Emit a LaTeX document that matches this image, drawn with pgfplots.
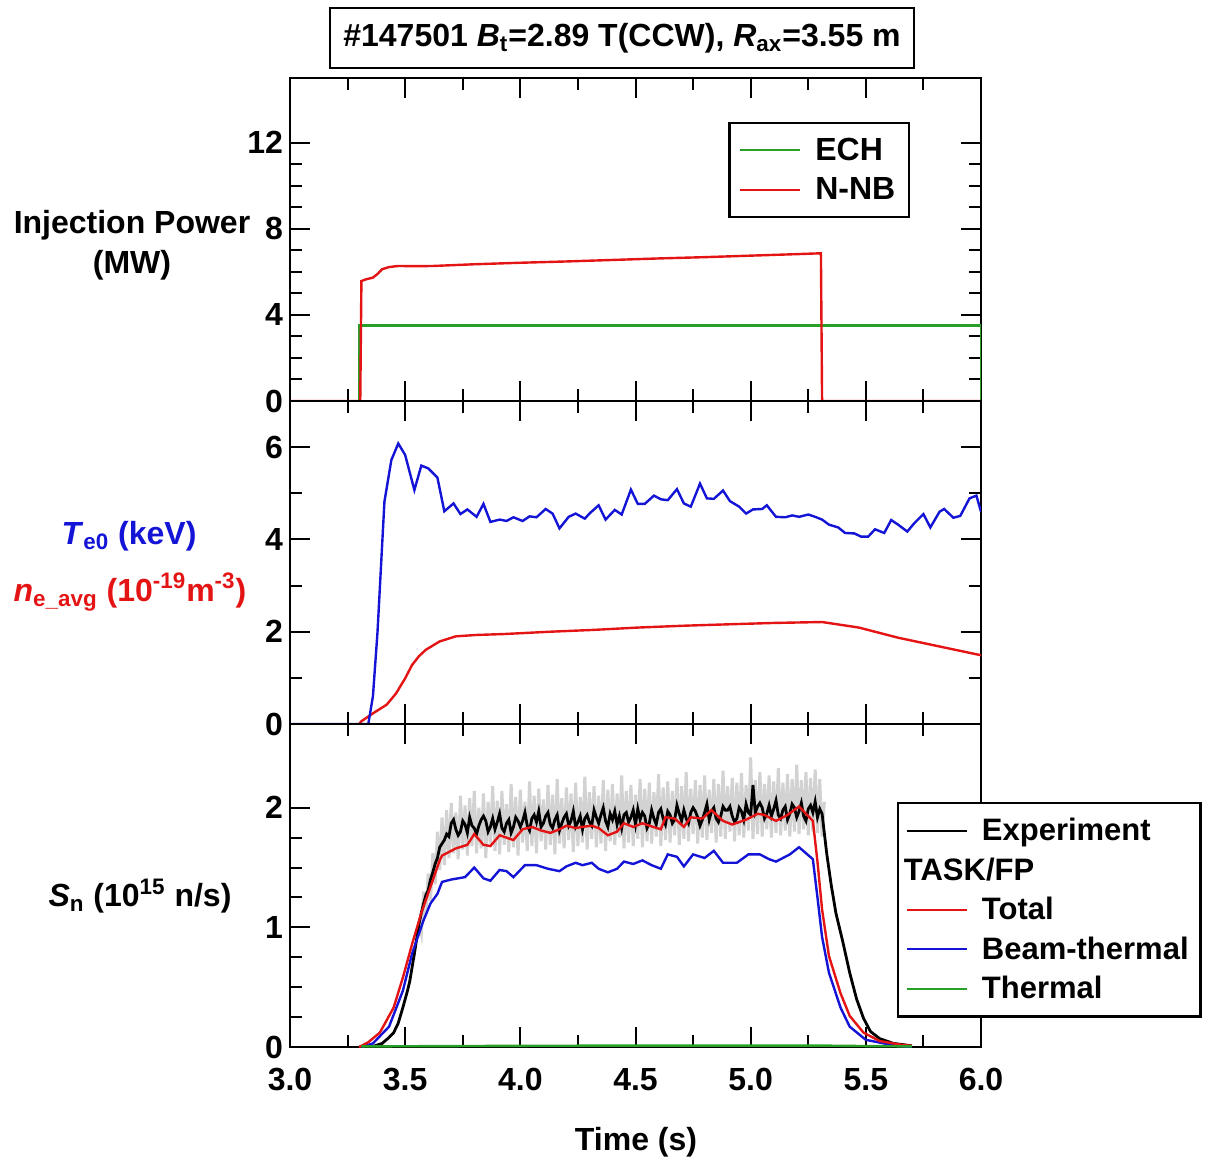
\documentclass[border=0pt]{standalone}
\usepackage{fontspec}
\setmainfont{Liberation Sans}
\usepackage{pgfplots}
\pgfplotsset{compat=1.18}
\definecolor{myred}{RGB}{228,20,20}
\definecolor{myblue}{RGB}{20,20,215}
\definecolor{mygreen}{RGB}{40,160,40}
\newcommand{\fs}{\fontsize{16}{20}\selectfont\bfseries}
\newcommand{\lfs}{\fontsize{15.5}{19}\selectfont\bfseries}
\pgfplotsset{
 panel/.style={
   scale only axis, width=345.5pt, height=161.5pt,
   anchor=south west,
   xmin=3, xmax=6,
   xtick={3,3.5,4,4.5,5,5.5,6},
   minor x tick num=1,
   tick align=inside, tick pos=both,
   axis line style={line width=1.2pt},
   major tick style={line width=1pt, black},
   minor tick style={line width=1pt, black},
   major tick length=10pt, minor tick length=6pt,
   tick label style={font=\fs},
   /pgf/number format/assume math mode=true,
   yticklabel={\pgfmathprintnumber{\tick}},
   legend cell align=left,
 }
}
\begin{document}
\begin{tikzpicture}
\path (0,0) rectangle (604pt,580pt);
% ---------------- top panel
\begin{axis}[panel, at={(145pt,379.5pt)}, ymin=0, ymax=15, ytick={0,4,8,12}, minor y tick num=3,
  xticklabels={},
  legend style={draw=black, line width=1.2pt, font=\fs, row sep=3pt, column sep=5pt, inner xsep=5pt, inner ysep=5.5pt, at={(0.634,0.865)}, anchor=north west},
  legend image code/.code={\draw[#1, line width=1pt] (0pt,0pt) -- (30pt,0pt);}]
\addplot[mygreen, line width=1.2pt] coordinates {(3,0)(3.3,0)(3.3,3.5)(6,3.5)(6,0)};
\addplot[myred, line width=1.2pt] coordinates {(3,0)(3.305,0)(3.31,5.57)(3.33,5.65)(3.36,5.73)(3.38,5.9)(3.40,6.12)(3.43,6.22)(3.47,6.27)(3.55,6.26)(3.62,6.27)(3.8,6.35)(4.0,6.42)(4.2,6.48)(4.4,6.55)(4.6,6.62)(4.8,6.68)(5.0,6.75)(5.2,6.82)(5.305,6.86)(5.31,0)(6,0)};
\legend{ECH,N-NB}
\end{axis}
% ---------------- middle panel
\begin{axis}[panel, at={(145pt,218pt)}, ymin=0, ymax=7, ytick={0,2,4,6}, minor y tick num=1,
  xticklabels={}]
\addplot[myred, line width=1.2pt] coordinates {(3.30,0)(3.31,0.06)(3.36,0.23)(3.42,0.42)(3.46,0.66)(3.50,0.99)(3.53,1.28)(3.56,1.47)(3.59,1.61)(3.65,1.79)(3.72,1.90)(3.81,1.93)(3.93,1.95)(4.13,2.0)(4.32,2.04)(4.51,2.09)(4.71,2.13)(4.90,2.16)(5.10,2.19)(5.31,2.21)(5.47,2.09)(5.64,1.87)(5.82,1.68)(6.0,1.49)};
\addplot[myblue, line width=1.2pt] coordinates {(3,0)(3.34,0)(3.36,0.6)(3.38,2.0)(3.41,4.82)(3.44,5.72)(3.47,6.08)(3.50,5.83)(3.54,5.07)(3.57,5.6)(3.60,5.54)(3.64,5.34)(3.67,4.61)(3.71,4.78)(3.74,4.55)(3.77,4.65)(3.81,4.49)(3.84,4.77)(3.87,4.38)(3.91,4.43)(3.94,4.40)(3.97,4.48)(4.01,4.40)(4.04,4.50)(4.07,4.48)(4.11,4.66)(4.14,4.56)(4.17,4.24)(4.21,4.49)(4.24,4.56)(4.28,4.45)(4.30,4.56)(4.34,4.74)(4.37,4.43)(4.41,4.64)(4.44,4.54)(4.48,5.08)(4.51,4.77)(4.54,4.77)(4.58,4.95)(4.61,4.87)(4.64,4.85)(4.68,5.09)(4.71,4.78)(4.74,4.71)(4.78,5.21)(4.81,4.89)(4.84,4.88)(4.88,5.06)(4.91,4.83)(4.95,4.71)(4.98,4.56)(5.01,4.65)(5.05,4.66)(5.07,4.74)(5.11,4.49)(5.15,4.48)(5.18,4.52)(5.21,4.49)(5.25,4.54)(5.28,4.49)(5.31,4.43)(5.34,4.32)(5.38,4.26)(5.41,4.14)(5.45,4.13)(5.48,4.06)(5.51,4.06)(5.54,4.22)(5.58,4.14)(5.61,4.42)(5.64,4.32)(5.68,4.17)(5.71,4.35)(5.75,4.55)(5.78,4.26)(5.82,4.60)(5.84,4.66)(5.88,4.47)(5.91,4.51)(5.95,4.89)(5.98,4.95)(6.0,4.60)};
\end{axis}
% ---------------- bottom panel
\begin{axis}[panel, at={(145pt,56.5pt)}, ymin=0, ymax=2.7, ytick={0,1,2}, minor y tick num=3,
  xticklabel={\pgfmathprintnumber[fixed,fixed zerofill,precision=1]{\tick}},
  xticklabel style={yshift=-7pt},
  legend style={draw=black, line width=1.2pt, font=\lfs, row sep=3pt, column sep=5pt, inner xsep=4pt, inner ysep=5.5pt, at={(0.878,0.7585)}, anchor=north west},
  legend image code/.code={\draw[#1, line width=1pt] (0pt,0pt) -- (30pt,0pt);}]
% grey scatter band of the measurement
\addplot[gray!35, line width=1.5pt, forget plot] coordinates {(3.56,1.05)(3.57,0.95)(3.58,1.30)(3.59,1.10)(3.60,1.45)(3.61,1.22)(3.62,1.62)(3.63,1.36)(3.64,1.80)(3.65,1.48)(3.66,1.92)(3.67,1.52)(3.68,1.98)(3.69,1.58)(3.70,2.04)(3.71,1.62)(3.72,1.96)(3.73,1.57)(3.74,2.10)(3.75,1.65)(3.76,2.02)(3.77,1.60)(3.78,2.08)(3.79,1.68)(3.80,2.14)(3.81,1.62)(3.82,2.00)(3.83,1.66)(3.84,2.12)(3.85,1.58)(3.86,2.05)(3.87,1.70)(3.88,2.18)(3.89,1.64)(3.90,2.06)(3.91,1.61)(3.92,2.14)(3.93,1.69)(3.94,2.03)(3.95,1.63)(3.96,2.20)(3.97,1.67)(3.98,2.09)(3.99,1.60)(4.00,2.15)(4.01,1.71)(4.02,2.05)(4.03,1.64)(4.04,2.22)(4.05,1.68)(4.06,2.10)(4.07,1.62)(4.08,2.16)(4.09,1.72)(4.10,2.07)(4.11,1.65)(4.12,2.19)(4.13,1.69)(4.14,2.11)(4.15,1.61)(4.16,2.24)(4.17,1.70)(4.18,2.08)(4.19,1.66)(4.20,2.17)(4.21,1.73)(4.22,2.12)(4.23,1.63)(4.24,2.21)(4.25,1.68)(4.26,2.09)(4.27,1.71)(4.28,2.26)(4.29,1.65)(4.30,2.13)(4.31,1.74)(4.32,2.18)(4.33,1.67)(4.34,2.10)(4.35,1.70)(4.36,2.23)(4.37,1.64)(4.38,2.15)(4.39,1.72)(4.40,2.20)(4.41,1.69)(4.42,2.12)(4.43,1.75)(4.44,2.27)(4.45,1.66)(4.46,2.14)(4.47,1.71)(4.48,2.19)(4.49,1.68)(4.50,2.11)(4.51,1.74)(4.52,2.24)(4.53,1.67)(4.54,2.16)(4.55,1.72)(4.56,2.21)(4.57,1.70)(4.58,2.13)(4.59,1.76)(4.60,2.28)(4.61,1.68)(4.62,2.17)(4.63,1.73)(4.64,2.22)(4.65,1.71)(4.66,2.14)(4.67,1.77)(4.68,2.25)(4.69,1.69)(4.70,2.18)(4.71,1.74)(4.72,2.30)(4.73,1.72)(4.74,2.16)(4.75,1.78)(4.76,2.23)(4.77,1.70)(4.78,2.19)(4.79,1.75)(4.80,2.27)(4.81,1.73)(4.82,2.15)(4.83,1.79)(4.84,2.24)(4.85,1.71)(4.86,2.20)(4.87,1.76)(4.88,2.31)(4.89,1.74)(4.90,2.18)(4.91,1.80)(4.92,2.25)(4.93,1.72)(4.94,2.21)(4.95,1.77)(4.96,2.29)(4.97,1.75)(4.98,2.19)(4.99,1.81)(5.00,2.42)(5.01,1.74)(5.02,2.23)(5.03,1.78)(5.04,2.30)(5.05,1.76)(5.06,2.20)(5.07,1.82)(5.08,2.27)(5.09,1.75)(5.10,2.22)(5.11,1.79)(5.12,2.33)(5.13,1.77)(5.14,2.21)(5.15,1.81)(5.16,2.28)(5.17,1.76)(5.18,2.24)(5.19,1.80)(5.20,2.36)(5.21,1.78)(5.22,2.23)(5.23,1.82)(5.24,2.30)(5.25,1.77)(5.26,2.25)(5.27,1.80)(5.28,2.32)(5.29,1.79)(5.30,2.24)(5.31,1.76)(5.32,2.05)};
\addplot[black, line width=1.4pt, forget plot] coordinates {(3.30,0.00)(3.36,0.005)(3.40,0.03)(3.43,0.08)(3.45,0.12)(3.47,0.20)(3.49,0.33)(3.51,0.47)(3.52,0.55)(3.54,0.78)(3.56,1.03)(3.57,1.12)(3.58,1.20)(3.59,1.27)(3.60,1.31)(3.61,1.40)(3.62,1.46)(3.63,1.53)(3.64,1.58)(3.65,1.67)(3.66,1.70)(3.67,1.73)(3.68,1.78)(3.69,1.76)(3.70,1.87)(3.71,1.90)(3.72,1.82)(3.73,1.77)(3.74,1.80)(3.75,1.89)(3.76,1.86)(3.77,1.79)(3.78,1.92)(3.79,1.85)(3.80,1.83)(3.81,1.78)(3.82,1.85)(3.83,1.90)(3.84,1.93)(3.85,1.89)(3.86,1.80)(3.87,1.84)(3.88,1.91)(3.89,1.82)(3.90,1.88)(3.91,1.95)(3.92,1.83)(3.93,1.80)(3.94,1.87)(3.95,1.90)(3.96,1.79)(3.97,1.84)(3.98,1.92)(3.99,1.89)(4.00,1.84)(4.01,1.89)(4.02,1.96)(4.03,1.85)(4.04,1.81)(4.05,1.91)(4.06,1.94)(4.07,1.88)(4.08,1.97)(4.09,1.84)(4.10,1.87)(4.11,1.93)(4.12,1.96)(4.13,1.86)(4.14,1.83)(4.15,1.90)(4.16,1.94)(4.17,1.81)(4.18,1.87)(4.19,1.92)(4.20,1.95)(4.21,1.85)(4.22,1.89)(4.23,1.97)(4.24,1.84)(4.25,1.88)(4.26,1.93)(4.27,1.82)(4.28,1.91)(4.29,1.94)(4.30,1.88)(4.31,1.85)(4.32,1.98)(4.33,1.92)(4.34,1.87)(4.35,1.94)(4.36,2.00)(4.37,1.89)(4.38,1.84)(4.39,1.95)(4.40,1.90)(4.41,1.97)(4.42,1.86)(4.43,1.93)(4.44,1.83)(4.45,1.94)(4.46,1.96)(4.47,1.88)(4.48,1.92)(4.49,1.98)(4.50,1.86)(4.51,1.99)(4.52,1.90)(4.53,1.96)(4.54,1.93)(4.55,1.83)(4.56,1.87)(4.57,1.98)(4.58,1.91)(4.59,1.86)(4.60,1.96)(4.61,1.99)(4.62,1.91)(4.63,1.86)(4.64,1.97)(4.65,1.94)(4.66,1.87)(4.67,1.90)(4.68,2.02)(4.69,1.95)(4.70,1.89)(4.71,1.98)(4.72,1.91)(4.73,1.87)(4.74,1.96)(4.75,2.00)(4.76,1.97)(4.77,1.92)(4.78,1.85)(4.79,1.90)(4.80,1.96)(4.81,2.03)(4.82,1.90)(4.83,1.97)(4.84,2.00)(4.85,1.91)(4.86,1.88)(4.87,1.93)(4.88,2.01)(4.89,1.98)(4.90,1.98)(4.91,2.01)(4.92,1.93)(4.93,1.88)(4.94,1.91)(4.95,2.00)(4.96,1.97)(4.97,1.90)(4.98,2.03)(4.99,1.96)(5.00,1.94)(5.01,2.19)(5.02,1.96)(5.03,2.01)(5.04,2.04)(5.05,2.00)(5.06,1.91)(5.07,1.95)(5.08,2.02)(5.09,1.93)(5.10,1.99)(5.11,2.06)(5.12,1.94)(5.13,1.91)(5.14,1.98)(5.15,2.01)(5.16,1.90)(5.17,1.95)(5.18,2.03)(5.19,2.00)(5.20,1.92)(5.21,1.97)(5.22,2.04)(5.23,1.93)(5.24,1.89)(5.25,1.99)(5.26,2.02)(5.27,1.96)(5.28,2.05)(5.29,1.92)(5.30,1.99)(5.31,1.95)(5.33,1.62)(5.35,1.35)(5.37,1.12)(5.40,0.88)(5.43,0.62)(5.46,0.40)(5.49,0.24)(5.52,0.13)(5.56,0.07)(5.62,0.03)(5.70,0.01)};
\addplot[myblue, line width=1.2pt, forget plot] coordinates {(3.31,0)(3.36,0.03)(3.43,0.17)(3.49,0.47)(3.53,0.78)(3.58,1.06)(3.61,1.20)(3.64,1.28)(3.66,1.38)(3.70,1.40)(3.76,1.42)(3.80,1.50)(3.84,1.41)(3.87,1.39)(3.91,1.48)(3.94,1.47)(3.97,1.42)(4.02,1.52)(4.07,1.52)(4.12,1.49)(4.17,1.47)(4.20,1.51)(4.24,1.54)(4.27,1.52)(4.31,1.54)(4.34,1.49)(4.38,1.46)(4.42,1.49)(4.45,1.55)(4.49,1.53)(4.53,1.56)(4.57,1.52)(4.61,1.49)(4.64,1.61)(4.68,1.59)(4.71,1.51)(4.75,1.61)(4.80,1.58)(4.84,1.64)(4.88,1.54)(4.94,1.54)(4.99,1.61)(5.04,1.61)(5.08,1.57)(5.11,1.55)(5.17,1.61)(5.21,1.67)(5.27,1.57)(5.29,1.25)(5.31,0.92)(5.34,0.62)(5.39,0.33)(5.43,0.17)(5.50,0.06)(5.63,0.01)(5.70,0)};
\addplot[myred, line width=1.2pt, forget plot] coordinates {(3.30,0.0)(3.34,0.04)(3.39,0.12)(3.45,0.33)(3.49,0.58)(3.53,0.86)(3.57,1.12)(3.61,1.34)(3.65,1.56)(3.66,1.60)(3.72,1.66)(3.77,1.69)(3.80,1.78)(3.84,1.69)(3.87,1.68)(3.91,1.77)(3.94,1.75)(3.97,1.73)(4.01,1.82)(4.05,1.84)(4.09,1.81)(4.13,1.79)(4.17,1.82)(4.20,1.85)(4.24,1.83)(4.27,1.84)(4.31,1.85)(4.34,1.83)(4.38,1.77)(4.42,1.80)(4.45,1.87)(4.49,1.84)(4.53,1.87)(4.56,1.85)(4.61,1.82)(4.63,1.92)(4.67,1.91)(4.71,1.84)(4.74,1.92)(4.79,1.91)(4.83,1.98)(4.88,1.89)(4.92,1.86)(4.98,1.90)(5.03,1.95)(5.06,1.94)(5.11,1.89)(5.16,1.94)(5.21,2.01)(5.27,1.89)(5.29,1.55)(5.31,1.15)(5.34,0.76)(5.39,0.45)(5.43,0.26)(5.49,0.12)(5.56,0.05)(5.65,0.02)(5.70,0.01)};
\addplot[mygreen, line width=1.2pt, forget plot] coordinates {(3.31,0.005)(4.0,0.01)(4.5,0.012)(5.0,0.012)(5.3,0.012)(5.5,0.008)(5.70,0.005)};
\addlegendimage{black}\addlegendentry{Experiment}
\addlegendimage{empty legend}\addlegendentry{\hspace*{-39pt}TASK/FP}
\addlegendimage{myred}\addlegendentry{Total}
\addlegendimage{myblue}\addlegendentry{Beam-thermal}
\addlegendimage{mygreen}\addlegendentry{Thermal}
\end{axis}
% ---------------- labels
\node[font=\fs, align=center] at (66pt,457.5pt) {Injection Power\\(MW)};
\node[font=\fs, text=myblue] at (64.5pt,312pt) {\textit{T}\textsubscript{e0} (keV)};
\node[font=\fs, text=myred] at (65pt,284pt) {\textit{n}\textsubscript{e\_avg} (10\textsuperscript{-19}m\textsuperscript{-3})};
\node[font=\fs] at (70pt,132pt) {\textit{S}\textsubscript{n} (10\textsuperscript{15} n/s)};
\node[font=\fs] at (318pt,9pt) {Time (s)};
\node[font=\fs, draw, line width=1.2pt, minimum width=292pt, minimum height=30pt] at (311pt,561pt) {\#147501 \textit{B}\textsubscript{t}=2.89 T(CCW), \textit{R}\textsubscript{ax}=3.55 m};
\end{tikzpicture}
\end{document}
